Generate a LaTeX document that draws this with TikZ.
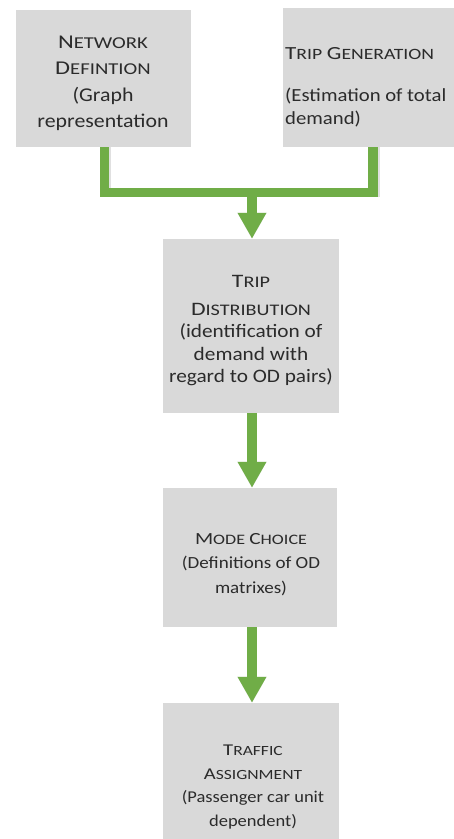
\documentclass[tikz,border=0pt]{standalone}
\usepackage{fontspec}
\setmainfont{Carlito}[FakeStretch=1.12]
\newfontfamily\hfont{Carlito}[FakeStretch=1.25]
\usetikzlibrary{arrows.meta}
\definecolor{boxgray}{HTML}{D9D9D9}
\definecolor{arrowgreen}{HTML}{70AD47}
\definecolor{txtgray}{HTML}{2B2B2B}
\makeatletter
\newcommand\fsc[2]{{\hfont #1\fontsize{\fpeval{0.85*\f@size}}{\f@baselineskip}\selectfont #2}}
\makeatother
\tikzset{
  stage/.style={fill=boxgray, draw=none, inner sep=0pt},
  stagetext/.style={align=center, text=txtgray, inner sep=0pt},
  flow/.style={draw=arrowgreen, line width=9.5pt},
  flowtip/.style={flow, -{Triangle[width=27pt,length=26pt]}},
  shade/.style={draw=black!40, opacity=0.3, line width=9.5pt},
  shadetip/.style={shade, -{Triangle[width=27pt,length=26pt]}}
}
\begin{document}
\begin{tikzpicture}[x=1pt,y=-1pt]
\useasboundingbox[fill=white] (0,0) rectangle (454,839);
% boxes
\node[stage, minimum width=175pt, minimum height=137pt] (net) at (103.5,78.5) {};
\node[stage, minimum width=171pt, minimum height=139pt] (gen) at (368.5,77.5) {};
\node[stage, minimum width=176pt, minimum height=174pt] (dist) at (251,326) {};
\node[stage, minimum width=174pt, minimum height=139pt] (mode) at (250,557.5) {};
\node[stage, minimum width=176pt, minimum height=138pt] (traf) at (251,772) {};
% texts
\node[stagetext, font=\fontsize{19.5}{26.5}\selectfont] (netT) at (103,83.5)
  {\fsc{N}{ETWORK}\\ \fsc{D}{EFINTION}\\ (Graph\\ representation};
\node[stagetext, align=left, anchor=west, font=\fontsize{18.5}{23}\selectfont] (genT) at (285,87.5)
  {\fsc{T}{RIP} \fsc{G}{ENERATION}\\[19pt] (Estimation of total\\ demand)};
\node[stagetext, font=\fontsize{19}{22.5}\selectfont] (distT) at (251,331)
  {\fsc{T}{RIP}\\[5pt] \fsc{D}{ISTRIBUTION}\\ (identification of\\ demand with\\ regard to OD pairs)};
\node[stagetext, font=\fontsize{17}{24.5}\selectfont] (modeT) at (251,564.5)
  {\fsc{M}{ODE} \fsc{C}{HOICE}\\ (Definitions of OD\\ matrixes)};
\node[stagetext, font=\fontsize{16.5}{23.5}\selectfont] (trafT) at (253,787)
  {\fsc{T}{RAFFIC}\\ \fsc{A}{SSIGNMENT}\\ (Passenger car unit\\ dependent)};
\coordinate (join) at (252,192.5);
% shadows
\begin{scope}[shift={(2,2)}]
\draw[shade] (net.south -| 104.5,0) |- (join) -| (gen.south -| 373,0);
\draw[shadetip] (join) -- (dist.north -| join);
\draw[shadetip] (dist.south -| join) -- (mode.north -| join);
\draw[shadetip] (mode.south -| join) -- (traf.north -| join);
\end{scope}
% arrows
\draw[flow] (net.south -| 104.5,0) |- (join) -| (gen.south -| 373,0);
\draw[flowtip] ([yshift=-4pt]join) -- (dist.north -| join);
\draw[flowtip] (dist.south -| join) -- (mode.north -| join);
\draw[flowtip] (mode.south -| join) -- (traf.north -| join);
\end{tikzpicture}
\end{document}
